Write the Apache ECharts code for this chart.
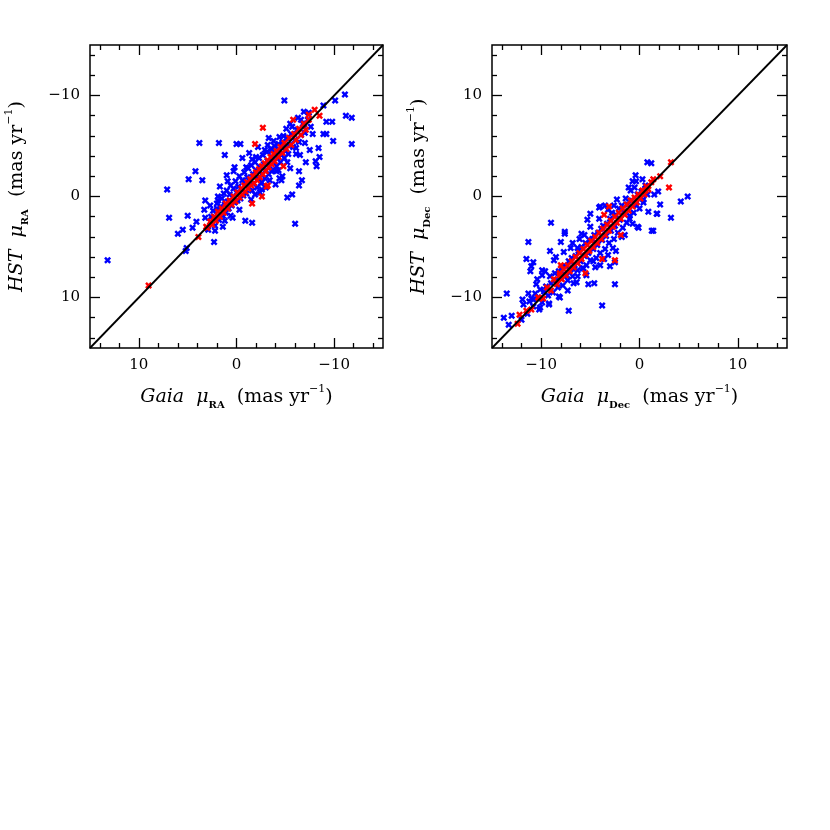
<!DOCTYPE html>
<html>
<head>
<meta charset="utf-8">
<script src="https://cdn.jsdelivr.net/npm/echarts@6/dist/echarts.min.js"></script>
<style>
  html, body { margin: 0; padding: 0; background: #fff; }
  #chart { width: 830px; height: 830px; }
</style>
</head>
<body>
<div id="chart"></div>
<script>
// tick values shared by every axis
const majorTicks = [-10, 0, 10]
const minorTicks = [-14, -12, -8, -6, -4, -2, 2, 4, 6, 8, 12, 14]

// one-to-one line
const diagonal = [[-15, -15], [15, 15]]

// left panel: Gaia mu_RA (x) vs HST mu_RA (y)
const raBlue = [
  [13.2, 6.3], [-4.9, -9.5], [-10.1, -9.5], [-11.1, -10.1], [-11.2, -8.0], [-11.8, -7.8], [-11.8, -5.2],
  [-8.9, -9.0], [-9.2, -7.4], [-9.8, -7.4], [-8.9, -6.2], [-9.2, -6.2], [-9.9, -5.5], [-8.4, -4.8],
  [-7.5, -4.6], [-8.5, -3.9], [-8.1, -3.5], [-8.2, -3.0], [-7.1, -3.4], [-6.1, -4.8], [-6.5, -4.1],
  [-6.4, -2.5], [-6.7, -1.6], [-6.4, -1.1], [-5.7, -0.2], [-5.2, 0.1], [-6.0, 2.7], [-5.5, -2.8],
  [-4.4, -1.8], [-4.0, -1.2], [3.8, -5.3], [1.8, -5.3], [0.0, -5.2], [-0.4, -5.2], [1.2, -4.1],
  [-0.6, -3.8], [-1.6, -3.7], [4.2, -2.5], [4.9, -1.7], [3.5, -1.6], [7.1, -0.7], [6.9, 2.1],
  [5.0, 1.9], [4.1, 2.5], [4.5, 3.1], [5.5, 3.3], [6.0, 3.7], [5.1, 5.1], [5.2, 5.4], [3.2, 0.4],
  [3.3, 1.3], [3.2, 2.1], [2.3, 4.5], [2.2, 3.4], [2.9, 3.3], [1.2, 2.4], [0.4, 2.1], [-0.9, 2.4],
  [-1.6, 2.6], [0.3, -2.5], [1.0, -2.1], [0.9, -1.5], [1.9, 0.0], [2.0, 0.7], [-2.6, -0.7],
  [-2.6, -1.4], [-3.6, -2.5], [-3.2, -5.1], [-3.6, -4.5], [-5.1, -6.7], [-5.4, -5.8], [-6.3, -7.8],
  [-6.9, -7.1], [-4.6, -1.6], [-4.7, -2.0], [-4.1, -2.5], [-3.2, -3.5],
  [2.6, 2.0], [2.4, 1.4], [2.2, 2.9], [2.0, 1.2], [1.9, 0.4], [1.8, 2.3], [1.6, 1.0], [1.5, 0.2],
  [1.4, 1.9], [1.3, -0.3], [1.2, 0.8], [1.1, 1.6], [1.0, -0.6], [0.9, 0.5], [0.8, 1.2], [0.7, -0.2],
  [0.6, -1.1], [0.5, 0.9], [0.4, 0.1], [0.3, -0.8], [0.2, 0.6], [0.1, -1.5], [0.0, -0.4], [-0.1, 0.4],
  [-0.2, -1.0], [-0.3, -2.0], [-0.4, 0.2], [-0.5, -0.7], [-0.6, -1.6], [-0.7, -0.1], [-0.8, -2.4],
  [-0.9, -1.2], [-1.0, -0.3], [-1.1, -1.9], [-1.2, -2.8], [-1.3, -0.9], [-1.4, -1.5], [-1.5, -3.1],
  [-1.6, -0.6], [-1.7, -2.2], [-1.8, -1.3], [-1.9, -3.4], [-2.0, -2.6], [-2.1, -0.9], [-2.2, -1.8],
  [-2.3, -3.8], [-2.4, -2.9], [-2.5, -1.3], [-2.6, -2.2], [-2.7, -4.1], [-2.8, -3.2], [-2.9, -1.8],
  [-3.0, -2.6], [-3.1, -4.4], [-3.2, -3.5], [-3.3, -2.2], [-3.4, -3.0], [-3.5, -4.7], [-3.6, -3.9],
  [-3.7, -2.6], [-3.8, -3.4], [-3.9, -5.0], [-4.0, -4.3], [-4.1, -3.0], [-4.2, -3.8], [-4.3, -5.2],
  [-4.4, -4.6], [-4.5, -3.4], [-4.6, -4.1], [-4.7, -5.4], [-4.8, -5.0], [-4.9, -3.8], [-5.0, -4.5],
  [-5.2, -5.8], [-5.3, -4.2], [-5.4, -5.1], [-5.6, -6.2], [-5.8, -4.9], [-6.0, -5.6], [-6.2, -6.6],
  [-6.4, -5.4], [-6.6, -6.1], [-6.8, -7.2], [-7.0, -6.3], [-7.3, -7.6], [-7.6, -6.9],
  [-1.0, -2.9], [-1.5, 0.3], [-2.0, -3.9], [-2.4, -0.4], [-2.9, -4.6], [-3.4, -1.6], [-3.8, -5.5],
  [-4.3, -2.6], [-4.8, -6.0], [-5.2, -3.4], [-5.7, -6.9], [-6.1, -4.2], [-6.6, -7.6], [-7.0, -5.3],
  [-7.4, -8.3], [-7.8, -6.2], [0.6, 1.9], [1.4, 3.0], [0.2, -2.9], [-0.3, 1.3], [-1.9, -0.2],
  [-3.0, -0.9], [-4.4, -5.9], [-5.5, -7.2], [-2.2, -4.9], [-3.3, -5.8], [-1.3, -4.3], [1.7, -1.0],
  [2.7, 0.9], [-6.9, -8.4]
]
const raRed = [
  [9.0, 8.8], [3.9, 4.0], [3.1, 3.0], [2.6, 2.5], [-2.7, -6.8], [-1.9, -5.2], [-3.1, -1.0], [-2.6, 0.0],
  [-1.6, 0.7], [-8.0, -8.6], [-8.5, -8.0], [-7.4, -8.1], [-5.8, -7.6], [-4.8, -3.0], [-3.2, -1.1],
  [3.0, 3.1], [2.7, 2.5], [2.5, 2.8], [2.3, 2.0], [2.1, 2.4], [1.9, 1.5], [1.7, 2.0], [1.5, 1.2],
  [1.3, 1.6], [1.1, 0.7], [0.9, 1.2], [0.7, 0.4], [0.5, 0.8], [0.3, 0.0], [0.1, 0.5], [-0.1, -0.4],
  [-0.3, 0.1], [-0.5, -0.8], [-0.6, -0.2], [-0.8, -1.1], [-0.9, -0.5], [-1.1, -1.4], [-1.2, -0.8],
  [-1.4, -1.7], [-1.5, -1.1], [-1.7, -2.0], [-1.8, -1.3], [-2.0, -2.4], [-2.1, -1.6], [-2.3, -2.7],
  [-2.4, -1.9], [-2.6, -3.0], [-2.7, -2.2], [-2.9, -3.3], [-3.0, -2.5], [-3.2, -3.6], [-3.3, -2.9],
  [-3.5, -3.9], [-3.6, -3.2], [-3.8, -4.2], [-3.9, -3.5], [-4.1, -4.5], [-4.3, -3.9], [-4.5, -4.9],
  [-4.7, -4.3], [-4.9, -5.3], [-5.1, -4.7], [-5.4, -5.8], [-5.6, -5.1], [-5.9, -6.2], [-6.1, -5.6],
  [-6.4, -6.7], [-6.6, -6.1], [-6.9, -7.2], [-7.1, -6.6], [-7.4, -7.6]
]

// right panel: Gaia mu_Dec (x) vs HST mu_Dec (y)
const decBlue = [
  [-13.5, -9.6], [-13.8, -12.0], [-13.3, -12.7], [-13.0, -11.8], [-11.3, -4.5], [-11.5, -6.2],
  [-10.8, -6.5], [-11.0, -6.9], [-11.1, -7.4], [-9.0, -2.6], [-7.6, -3.5], [-7.6, -3.7], [-9.1, -5.4],
  [-8.5, -6.0], [-9.9, -7.3], [-9.9, -7.8], [-10.5, -8.7], [-11.3, -9.6], [-11.9, -10.2], [-11.8, -10.7],
  [-11.2, -10.4], [-10.8, -10.2], [-10.2, -11.2], [-9.2, -10.7], [-8.1, -10.0], [-7.2, -11.3],
  [-3.8, -10.8], [-4.6, -8.6], [-2.5, -8.7], [-5.0, -1.7], [-5.3, -2.3], [-4.1, -1.1], [-2.6, -0.9],
  [-0.7, 1.5], [0.3, 1.7], [0.8, 3.4], [1.2, 3.3], [1.9, 0.5], [2.1, -0.8], [1.8, -1.7], [1.4, -3.4],
  [4.2, -0.5], [4.9, 0.0], [3.2, -2.1], [-0.2, -3.0], [-1.0, -2.2], [-0.4, -0.8], [0.4, -0.3],
  [0.6, 0.8], [-1.8, -4.0], [-2.4, -5.4], [-3.2, -5.8], [-4.0, -6.8], [-4.7, -6.4], [-5.7, -7.1],
  [-6.3, -7.9], [-6.7, -8.6], [-6.3, -5.1], [-6.1, -4.2], [-5.6, -3.8], [-7.0, -5.1], [-6.8, -7.1],
  [-7.4, -7.8], [-4.0, -1.0], [-3.5, -0.9], [-0.35, 1.5], [1.75, -1.7], [1.25, -3.4], [-0.1, -3.1],
  [-2.5, -6.5],
  [0.8, 0.2], [0.6, 1.1], [0.4, -0.6], [0.2, 0.5], [0.0, -1.2], [-0.2, 0.2], [-0.3, -0.9], [-0.5, 0.9],
  [-0.6, -1.6], [-0.8, -0.4], [-0.9, 0.6], [-1.0, -1.9], [-1.2, -0.8], [-1.3, -2.6], [-1.4, -0.2],
  [-1.6, -1.5], [-1.7, -3.1], [-1.8, -0.9], [-2.0, -2.3], [-2.1, -1.2], [-2.2, -3.6], [-2.4, -1.8],
  [-2.5, -2.9], [-2.6, -4.2], [-2.8, -1.6], [-2.9, -3.4], [-3.0, -2.2], [-3.1, -4.6], [-3.3, -2.7],
  [-3.4, -3.9], [-3.5, -5.2], [-3.7, -2.9], [-3.8, -4.3], [-3.9, -3.2], [-4.0, -5.6], [-4.2, -3.6],
  [-4.3, -4.8], [-4.4, -6.1], [-4.6, -3.8], [-4.7, -5.2], [-4.8, -4.2], [-5.0, -6.3], [-5.1, -4.3],
  [-5.2, -5.6], [-5.4, -6.8], [-5.5, -4.6], [-5.6, -5.9], [-5.8, -7.1], [-5.9, -5.0], [-6.0, -6.4],
  [-6.2, -5.4], [-6.3, -7.3], [-6.5, -5.9], [-6.6, -6.8], [-6.8, -7.9], [-6.9, -6.1], [-7.0, -7.2],
  [-7.2, -6.4], [-7.3, -8.3], [-7.5, -6.9], [-7.6, -7.7], [-7.8, -8.8], [-7.9, -7.0], [-8.0, -8.1],
  [-8.2, -7.4], [-8.3, -9.0], [-8.5, -8.3], [-8.6, -7.6], [-8.8, -9.5], [-9.0, -8.6], [-9.1, -7.9],
  [-9.3, -9.8], [-9.5, -8.9], [-9.7, -9.4], [-9.9, -10.5], [-10.1, -9.2], [-10.3, -10.0], [-10.6, -9.6],
  [-10.8, -10.9], [-11.0, -10.1],
  [-0.4, 2.1], [-1.1, 0.9], [-1.5, -3.8], [-2.3, -0.3], [-2.7, -5.1], [-3.2, -1.3], [-3.6, -6.2],
  [-4.1, -2.2], [-4.5, -7.0], [-5.0, -3.0], [-5.4, -7.8], [-5.9, -3.7], [-6.4, -8.5], [-6.8, -4.6],
  [-7.3, -9.3], [-7.7, -5.5], [-8.2, -9.9], [-8.7, -6.3], [-9.2, -10.6], [-9.6, -7.4], [-10.1, -11.0],
  [-10.4, -8.2], [-11.4, -11.6], [-12.0, -12.2], [0.9, -1.5], [1.5, 0.2], [-0.7, -2.7], [-3.0, -6.9],
  [-5.2, -8.7], [-8.0, -4.5]
]
const decRed = [
  [-12.4, -12.6], [-12.2, -11.7], [-10.2, -10.1], [-8.1, -7.8], [-8.0, -6.8], [-5.5, -7.6], [-3.8, -6.2],
  [-2.5, -6.3], [-1.9, -3.8], [-3.6, -1.8], [-3.1, -1.0], [3.0, 0.9], [3.2, 3.4], [1.4, 1.7], [2.1, 2.0],
  [0.6, 0.6],
  [1.2, 1.4], [0.9, 0.7], [0.7, 1.0], [0.5, 0.2], [0.3, 0.6], [0.1, -0.2], [-0.1, 0.2], [-0.3, -0.6],
  [-0.5, -0.1], [-0.7, -1.0], [-0.9, -0.4], [-1.1, -1.4], [-1.3, -0.8], [-1.5, -1.8], [-1.7, -1.2],
  [-1.9, -2.2], [-2.1, -1.6], [-2.3, -2.6], [-2.5, -2.0], [-2.7, -3.0], [-2.9, -2.4], [-3.1, -3.4],
  [-3.3, -2.8], [-3.5, -3.8], [-3.7, -3.2], [-3.9, -4.2], [-4.1, -3.6], [-4.3, -4.6], [-4.5, -4.0],
  [-4.7, -5.0], [-4.9, -4.4], [-5.1, -5.4], [-5.3, -4.8], [-5.5, -5.8], [-5.7, -5.2], [-5.9, -6.2],
  [-6.1, -5.6], [-6.3, -6.6], [-6.5, -6.0], [-6.7, -7.0], [-6.9, -6.4], [-7.1, -7.4], [-7.3, -6.8],
  [-7.5, -7.8], [-7.7, -7.2], [-7.9, -8.2], [-8.1, -7.6], [-8.4, -8.7], [-8.7, -8.2], [-9.0, -9.3],
  [-9.4, -9.0], [-9.8, -10.1], [-10.3, -10.0], [-11.0, -11.2], [-11.5, -11.3]
]

const FONT = 'DejaVu Serif'
const CROSS = 'path://M0,2.5 L2.5,0 L5,2.5 L7.5,0 L10,2.5 L7.5,5 L10,7.5 L7.5,10 L5,7.5 L2.5,10 L0,7.5 L2.5,5 Z'

const nameStyle = {
  fontFamily: FONT,
  fontSize: 19,
  color: '#000',
  lineHeight: 26,
  rich: {
    i: { fontFamily: FONT, fontSize: 19, fontStyle: 'italic', lineHeight: 26 },
    sub: { fontFamily: FONT, fontSize: 10, fontWeight: 'bold', verticalAlign: 'bottom', lineHeight: 12 },
    sup: { fontFamily: FONT, fontSize: 11, verticalAlign: 'top', lineHeight: 14 }
  }
}

function fmt(v) {
  return v < 0 ? '\u2212' + (-v) : String(v)
}

// one axis of the frame; only the main axis carries labels and a name
function axis(grid, pos, ticks, len, inverse, name, gap) {
  const a = {
    type: 'value',
    gridIndex: grid,
    position: pos,
    min: -15,
    max: 15,
    inverse: inverse,
    axisLine: { show: false, onZero: false },
    splitLine: { show: false },
    axisTick: { show: true, inside: true, length: len, customValues: ticks, lineStyle: { color: '#000', width: 1.3 } },
    axisLabel: { show: false }
  }
  if (name) {
    a.axisLabel = { show: true, customValues: majorTicks, formatter: fmt, fontFamily: FONT, fontSize: 15, color: '#000', margin: 10 }
    a.name = name
    a.nameLocation = 'middle'
    a.nameGap = gap
    a.nameTextStyle = nameStyle
  }
  return a
}

function panelX(grid, inverse, name) {
  return [
    axis(grid, 'bottom', majorTicks, 10, inverse, name, 36),
    axis(grid, 'bottom', minorTicks, 5, inverse),
    axis(grid, 'top', majorTicks, 10, inverse),
    axis(grid, 'top', minorTicks, 5, inverse)
  ]
}

function panelY(grid, inverse, name) {
  const y = [
    axis(grid, 'left', majorTicks, 10, inverse, name, 60),
    axis(grid, 'left', minorTicks, 5, inverse),
    axis(grid, 'right', majorTicks, 10, inverse),
    axis(grid, 'right', minorTicks, 5, inverse)
  ]
  y[0].nameRotate = 90
  return y
}

function dots(data, color, axisIdx) {
  return {
    type: 'scatter',
    data: data,
    xAxisIndex: axisIdx,
    yAxisIndex: axisIdx,
    symbol: CROSS,
    symbolSize: 7,
    itemStyle: { color: color, opacity: 1 },
    silent: true,
    z: color === '#ff0000' ? 3 : 2
  }
}

function oneToOne(axisIdx) {
  return {
    type: 'line',
    data: diagonal,
    xAxisIndex: axisIdx,
    yAxisIndex: axisIdx,
    showSymbol: false,
    lineStyle: { color: '#000', width: 1.8 },
    silent: true,
    z: 4
  }
}

const chart = echarts.init(document.getElementById('chart'))

chart.setOption({
  animation: false,
  backgroundColor: '#fff',
  grid: [
    { left: 90, top: 45, width: 293, height: 303, show: true, borderColor: '#000', borderWidth: 1.5, backgroundColor: 'transparent' },
    { left: 492, top: 45, width: 295, height: 303, show: true, borderColor: '#000', borderWidth: 1.5, backgroundColor: 'transparent' }
  ],
  xAxis: panelX(0, true, '{i|Gaia}  {i|\u03bc}{sub|RA}  (mas yr{sup|\u22121})')
    .concat(panelX(1, false, '{i|Gaia}  {i|\u03bc}{sub|Dec}  (mas yr{sup|\u22121})')),
  yAxis: panelY(0, true, '{i|HST}  {i|\u03bc}{sub|RA}  (mas yr{sup|\u22121})')
    .concat(panelY(1, false, '{i|HST}  {i|\u03bc}{sub|Dec}  (mas yr{sup|\u22121})')),
  series: [
    dots(raBlue, '#0000ff', 0),
    dots(raRed, '#ff0000', 0),
    oneToOne(0),
    dots(decBlue, '#0000ff', 4),
    dots(decRed, '#ff0000', 4),
    oneToOne(4)
  ]
})
</script>
</body>
</html>
